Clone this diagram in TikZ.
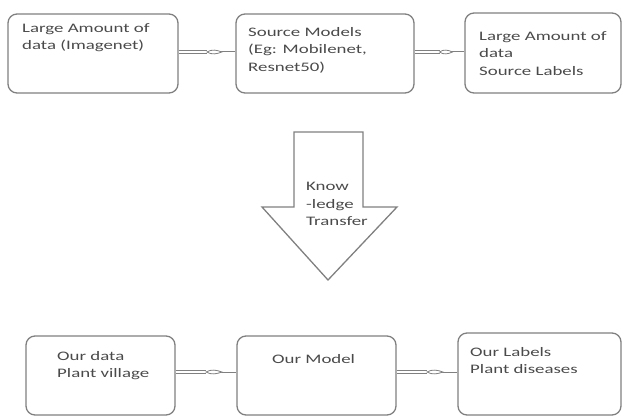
\documentclass[tikz,border=0pt]{standalone}
\usepackage{fontspec}
\setmainfont{Carlito}[FakeStretch=1.45]
\usetikzlibrary{calc}
\definecolor{linegray}{HTML}{808080}
\definecolor{textgray}{HTML}{4A4A4A}
\tikzset{
  box/.style={draw=linegray, line width=1.3pt, rounded corners=9pt},
  lbl/.style={anchor=north west, inner sep=0pt, align=left, text=textgray,
    font=\fontsize{13}{17.5}\selectfont},
  dbl/.style={draw=linegray, line width=0.8pt, double=white, double distance=2pt},
  sgl/.style={draw=linegray, line width=1pt},
  lens/.style={draw=linegray, line width=0.8pt, fill=white},
}
\newcommand{\conn}[2]{%
  \draw[dbl] (#1) -- ($(#1)!0.5!(#2)$);
  \draw[sgl] ($(#1)!0.74!(#2)$) -- (#2);
  \draw[lens] ($(#1)!0.5!(#2)$) .. controls ($(#1)!0.58!(#2)+(0,3)$) and ($(#1)!0.68!(#2)+(0,2)$) .. ($(#1)!0.76!(#2)$)
     .. controls ($(#1)!0.68!(#2)+(0,-2)$) and ($(#1)!0.58!(#2)+(0,-3)$) .. cycle;
}
\begin{document}
\begin{tikzpicture}[x=1pt,y=-1pt]
\useasboundingbox (0,0) rectangle (622,417);
% top row boxes
\node[box, minimum width=170pt, minimum height=79pt, inner sep=0pt] (b1) at (93,53.5) {};
\node[box, minimum width=178pt, minimum height=79pt, inner sep=0pt] (b2) at (325,53.5) {};
\node[box, minimum width=156pt, minimum height=80pt, inner sep=0pt] (b3) at (543,53) {};
% bottom row boxes
\node[box, minimum width=149pt, minimum height=79pt, inner sep=0pt] (b4) at (100.5,375.5) {};
\node[box, minimum width=159pt, minimum height=79pt, inner sep=0pt] (b5) at (316.5,375.5) {};
\node[box, minimum width=163pt, minimum height=82pt, inner sep=0pt] (b6) at (539.5,374) {};
% texts
\node[lbl] (t1) at (22,23) {Large Amount of\\data (Imagenet)};
\node[lbl] (t2) at (248,27) {Source Models\\(Eg: Mobilenet,\\Resnet50)};
\node[lbl] (t3) at (479,31) {Large Amount of\\data\\Source Labels};
\node[lbl] (t4) at (57,351) {Our data\\Plant village};
\node[lbl] (t5) at (272,354) {Our Model};
\node[lbl] (t6) at (470,347) {Our Labels\\Plant diseases};
% knowledge transfer arrow
\draw[draw=linegray, line width=1.3pt, line join=miter]
  (294,132) -- (363,132) -- (363,207) -- (397,207) -- (328,280) -- (262,207) -- (294,207) -- cycle;
\node[lbl] (t7) at (306,182) {Know\\-ledge\\Transfer};
% connectors
\coordinate (a1) at ($(b1.east)+(0,-1.5)$);
\coordinate (a2) at ($(b2.west)+(0,-1.5)$);
\coordinate (a3) at ($(b2.east)+(0,-1.5)$);
\coordinate (a4) at ($(b3.west)+(0,-1)$);
\coordinate (a5) at ($(b4.east)+(0,-3.5)$);
\coordinate (a6) at ($(b5.west)+(0,-3.5)$);
\coordinate (a7) at ($(b5.east)+(0,-3.5)$);
\coordinate (a8) at ($(b6.west)+(0,-2)$);
\conn{a1}{a2}
\conn{a3}{a4}
\conn{a5}{a6}
\conn{a7}{a8}
\end{tikzpicture}
\end{document}
